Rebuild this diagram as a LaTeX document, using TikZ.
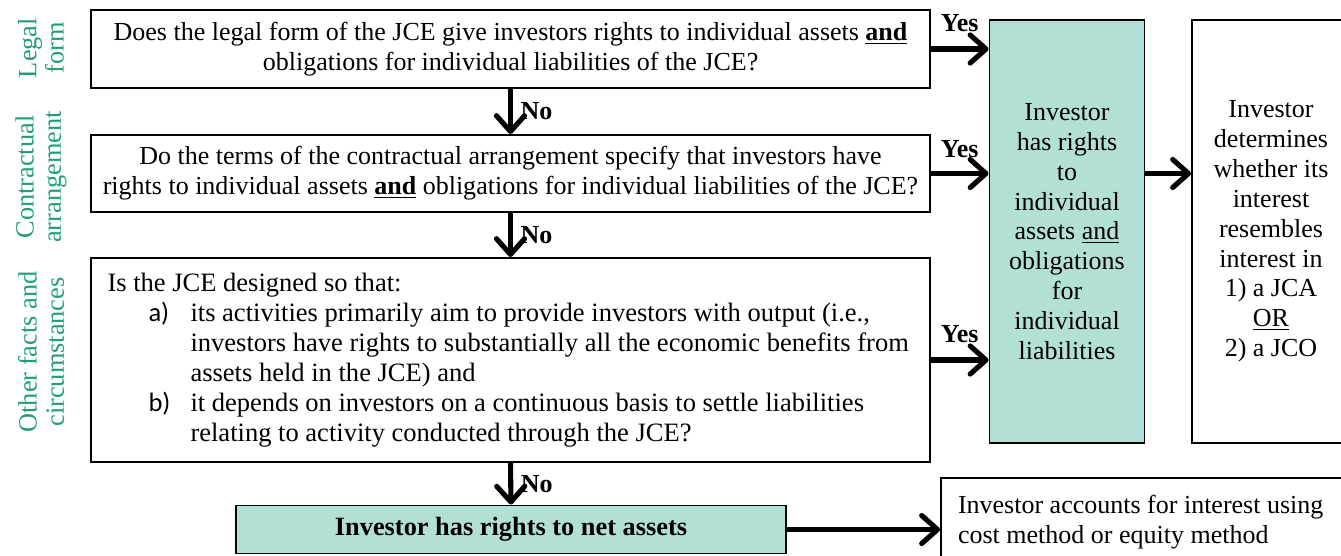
\documentclass[tikz,border=0pt]{standalone}
\usepackage{fontspec}
\setmainfont{Liberation Serif}
\setsansfont{Carlito}
\usetikzlibrary{arrows.meta}
\definecolor{tealfill}{HTML}{B3E0D6}
\definecolor{labgreen}{RGB}{32,160,112}
\newlength\pxu
\setlength\pxu{0.02cm}
\newcommand\bodyfont{\fontsize{14.8}{17}\selectfont}
\newcommand\listfont{\fontsize{15.1}{17}\selectfont}
\newcommand\ul[1]{\underline{#1}}
\tikzset{
  box/.style={draw=black, line width=1.1pt, fill=white, inner sep=0pt, font=\bodyfont},
  tealbox/.style={box, fill=tealfill},
  lab/.style={text=labgreen, font=\fontsize{15}{15.5}\selectfont, align=center, rotate=90},
  arr/.style={line width=2.9pt, -{Straight Barb[length=9pt, width=16pt, line cap=round, line join=round]}},
  yn/.style={font=\bodyfont\bfseries}
}
\begin{document}
\begin{tikzpicture}[x=0.02cm, y=-0.02cm]
\useasboundingbox (0,0) rectangle (1341,555);
\clip (0,0) rectangle (1341,555);

% side labels
\node[lab] (l1) at (41,48) {Legal\\form};
\node[lab] (l2) at (41,177) {Contractual\\arrangement};
\node[lab] (l3) at (41,352) {Other facts and\\circumstances};

% question boxes
\node[box, minimum width=839\pxu, minimum height=78\pxu, align=center] (q1) at (510.5,49)
  {Does the legal form of the JCE give investors rights to individual assets \textbf{\ul{and}}\\
   obligations for individual liabilities of the JCE?};
\node[box, minimum width=839\pxu, minimum height=77\pxu, align=center] (q2) at (510.5,173.5)
  {Do the terms of the contractual arrangement specify that investors have\\
   rights to individual assets \textbf{\ul{and}} obligations for individual liabilities of the JCE?};
\node[box, minimum width=839\pxu, minimum height=204\pxu] (q3) at (510.5,360)
  {\parbox{806\pxu}{\raggedright\listfont
   Is the JCE designed so that:\\
   \hspace*{41\pxu}\makebox[42\pxu][l]{\sffamily a)}its activities primarily aim to provide investors with output (i.e.,\\
   \hspace*{83\pxu}investors have rights to substantially all the economic benefits from\\
   \hspace*{83\pxu}assets held in the JCE) and\\
   \hspace*{41\pxu}\makebox[42\pxu][l]{\sffamily b)}it depends on investors on a continuous basis to settle liabilities\\
   \hspace*{83\pxu}relating to activity conducted through the JCE?}};

% result boxes
\node[tealbox, minimum width=155\pxu, minimum height=423\pxu, align=center] (rights) at (1067,231.5)
  {Investor\\has rights\\to\\individual\\assets \ul{and}\\obligations\\for\\individual\\liabilities};
\node[box, minimum width=158\pxu, minimum height=423\pxu, align=center] (det) at (1271,231.5)
  {Investor\\determines\\whether its\\interest\\resembles\\interest in\\1) a JCA\\\ul{OR}\\2) a JCO};
\node[tealbox, minimum width=550\pxu, minimum height=48\pxu] (net) at (511,529.5)
  {\fontsize{15}{17}\selectfont\textbf{Investor has rights to net assets}};
\node[box, minimum width=404\pxu, minimum height=88\pxu] (acc) at (1143,522)
  {\parbox{370\pxu}{\raggedright\bodyfont Investor accounts for interest using\\cost method or equity method}};

% connectors
\draw[arr] (q1.south) -- node[yn, midway, right=1pt] {No} (q2.north);
\draw[arr] (q2.south) -- node[yn, midway, right=1pt] {No} (q3.north);
\draw[arr] (q3.south) -- node[yn, midway, right=1pt] {No} (net.north);
\draw[arr] (q1.east) -- node[yn, midway, above=5pt] {Yes} (q1.east -| rights.west);
\draw[arr] (q2.east) -- node[yn, midway, above=4pt] {Yes} (q2.east -| rights.west);
\draw[arr] (q3.east) -- node[yn, midway, above=5pt] {Yes} (q3.east -| rights.west);
\draw[arr] (rights.east |- q2.east) -- (det.west |- q2.east);
\draw[arr] (net.east) -- (net.east -| acc.west);
\end{tikzpicture}
\end{document}
